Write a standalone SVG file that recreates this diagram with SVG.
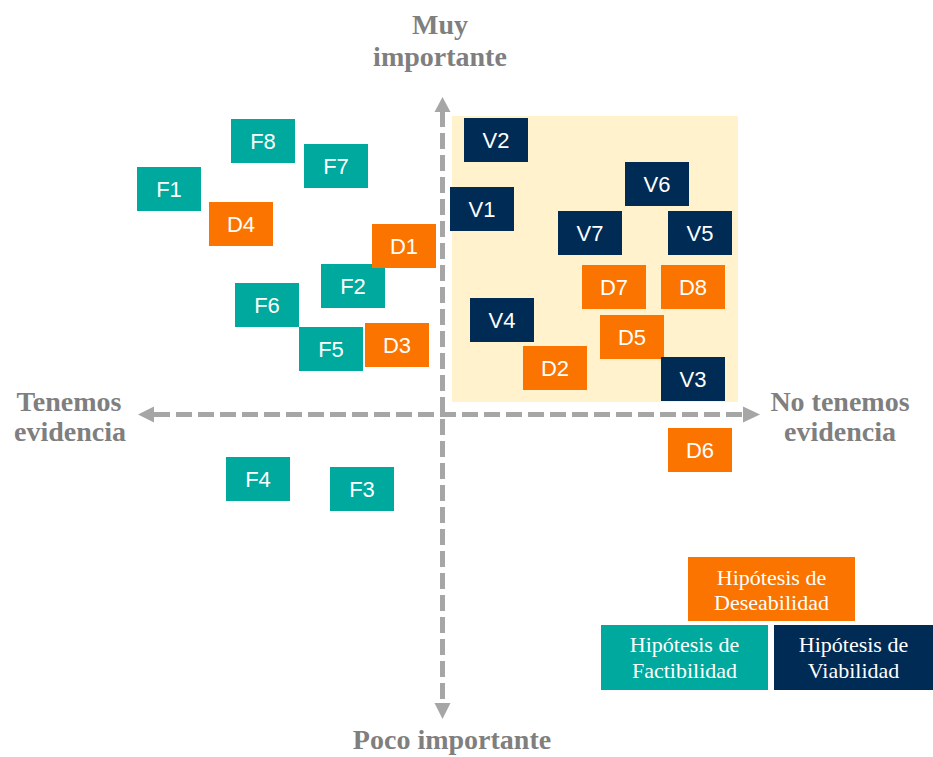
<svg xmlns="http://www.w3.org/2000/svg" width="933" height="757" viewBox="0 0 933 757">
<defs>
<style>
.ax{font-family:"Liberation Serif","Times New Roman",serif;font-weight:bold;font-size:28px;fill:#7f7f7f;text-anchor:middle}
.n rect{width:64px;height:44px}
.n text{font-family:"Liberation Sans",Arial,sans-serif;font-size:22px;fill:#ffffff;text-anchor:middle}
.f rect{fill:#00a99d}
.d rect{fill:#fb7400}
.v rect{fill:#002b55}
.lg text{font-family:"Liberation Serif","Times New Roman",serif;font-size:22px;fill:#ffffff;text-anchor:middle}
.axis{stroke:#a6a6a6;stroke-width:5;fill:none}
.head{fill:#a6a6a6}
</style>
</defs>
<rect width="933" height="757" fill="#ffffff"/>
<rect x="452" y="116" width="286" height="286" fill="#fff2cc"/>
<g id="connectors">
<line class="axis" x1="442.5" y1="111" x2="442.5" y2="704" stroke-dasharray="16 6"/>
<line class="axis" x1="154" y1="414.5" x2="744" y2="414.5" stroke-dasharray="16 6"/>
<polygon class="head" points="442.5,97 434.5,112 450.5,112"/>
<polygon class="head" points="442.5,719 434.5,703 450.5,703"/>
<polygon class="head" points="138,414.5 154,406.5 154,422.5"/>
<polygon class="head" points="760,414.5 743,406.5 743,422.5"/>
</g>
<g id="axis-labels">
<text class="ax" x="440" y="34">Muy</text>
<text class="ax" x="440" y="66">importante</text>
<text class="ax" x="452" y="749">Poco importante</text>
<text class="ax" x="69" y="411">Tenemos</text>
<text class="ax" x="70" y="441">evidencia</text>
<text class="ax" x="840" y="411">No tenemos</text>
<text class="ax" x="840" y="441">evidencia</text>
</g>
<g id="F8" class="n f"><rect x="231" y="119"/><text x="263" y="149">F8</text></g>
<g id="F7" class="n f"><rect x="304" y="144"/><text x="336" y="174">F7</text></g>
<g id="F1" class="n f"><rect x="137" y="167"/><text x="169" y="197">F1</text></g>
<g id="D4" class="n d"><rect x="209" y="202"/><text x="241" y="232">D4</text></g>
<g id="F2" class="n f"><rect x="321" y="264"/><text x="353" y="294">F2</text></g>
<g id="D1" class="n d"><rect x="372" y="224"/><text x="404" y="254">D1</text></g>
<g id="F6" class="n f"><rect x="235" y="283"/><text x="267" y="313">F6</text></g>
<g id="F5" class="n f"><rect x="299" y="327"/><text x="331" y="357">F5</text></g>
<g id="D3" class="n d"><rect x="365" y="323"/><text x="397" y="353">D3</text></g>
<g id="V2" class="n v"><rect x="464" y="118"/><text x="496" y="148">V2</text></g>
<g id="V6" class="n v"><rect x="625" y="162"/><text x="657" y="192">V6</text></g>
<g id="V1" class="n v"><rect x="450" y="187"/><text x="482" y="217">V1</text></g>
<g id="V7" class="n v"><rect x="558" y="211"/><text x="590" y="241">V7</text></g>
<g id="V5" class="n v"><rect x="668" y="211"/><text x="700" y="241">V5</text></g>
<g id="D7" class="n d"><rect x="582" y="265"/><text x="614" y="295">D7</text></g>
<g id="D8" class="n d"><rect x="661" y="265"/><text x="693" y="295">D8</text></g>
<g id="V4" class="n v"><rect x="470" y="298"/><text x="502" y="328">V4</text></g>
<g id="D5" class="n d"><rect x="600" y="315"/><text x="632" y="345">D5</text></g>
<g id="D2" class="n d"><rect x="523" y="346"/><text x="555" y="376">D2</text></g>
<g id="V3" class="n v"><rect x="661" y="357"/><text x="693" y="387">V3</text></g>
<g id="D6" class="n d"><rect x="668" y="428"/><text x="700" y="458">D6</text></g>
<g id="F4" class="n f"><rect x="226" y="457"/><text x="258" y="487">F4</text></g>
<g id="F3" class="n f"><rect x="330" y="467"/><text x="362" y="497">F3</text></g>
<g id="legend" class="lg">
<g id="legend-deseabilidad"><rect x="688" y="557" width="167" height="64" fill="#fb7400"/><text x="771.5" y="585">Hipótesis de</text><text x="771.5" y="610">Deseabilidad</text></g>
<g id="legend-factibilidad"><rect x="601" y="625" width="167" height="65" fill="#00a99d"/><text x="684.5" y="652">Hipótesis de</text><text x="684.5" y="678">Factibilidad</text></g>
<g id="legend-viabilidad"><rect x="774" y="625" width="159" height="65" fill="#002b55"/><text x="853.5" y="652">Hipótesis de</text><text x="853.5" y="678">Viabilidad</text></g>
</g>
</svg>
